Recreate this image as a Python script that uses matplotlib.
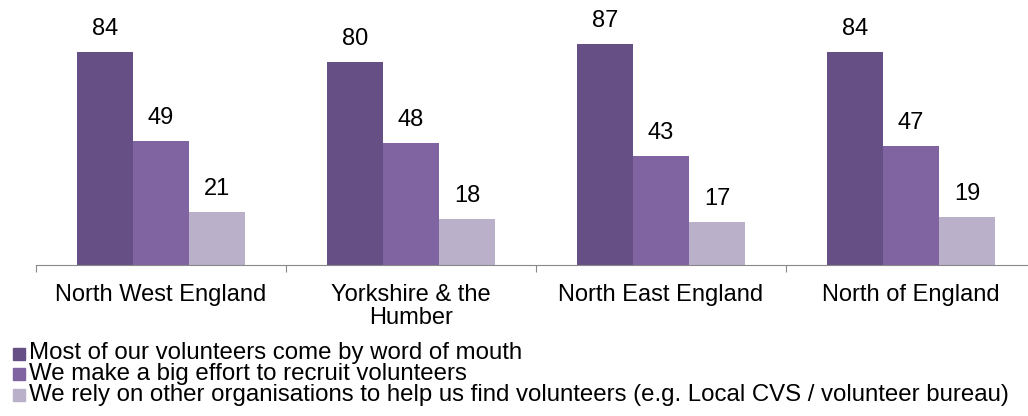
import numpy as np
import matplotlib
matplotlib.use("Agg")
import matplotlib.pyplot as plt
from matplotlib.patches import Rectangle

plt.rcParams['font.family'] = ['Liberation Sans', 'DejaVu Sans']

regions = ["North West England", "Yorkshire & the\nHumber", "North East England", "North of England"]
series_names = [
    "Most of our volunteers come by word of mouth",
    "We make a big effort to recruit volunteers",
    "We rely on other organisations to help us find volunteers (e.g. Local CVS / volunteer bureau)",
]
word_of_mouth = [84, 80, 87, 84]
big_effort = [49, 48, 43, 47]
other_orgs = [21, 18, 17, 19]
colors = ["#664F84", "#8064A2", "#BAB0CA"]

W, H = 1028, 416
fig = plt.figure(figsize=(W / 100, H / 100), dpi=100)
ax = fig.add_axes([36 / W, 1 - 265 / H, 1000 / W, 254 / H])

x = np.arange(len(regions))
w = 0.224
for i, (vals, c) in enumerate(zip([word_of_mouth, big_effort, other_orgs], colors)):
    pos = x + (i - 1) * w
    ax.bar(pos, vals, width=w, color=c, edgecolor="none")
    for p, v in zip(pos, vals):
        ax.text(p, v + 9, str(v), ha="center", va="center", fontsize=17)

ax.set_xlim(-0.5, len(regions) - 0.5)
ax.set_ylim(0, 100)
ax.set_yticks([])
for s in ["top", "right", "left"]:
    ax.spines[s].set_visible(False)
ax.spines["bottom"].set_color("#888888")
ax.set_xticks(np.arange(-0.5, len(regions), 1.0))
ax.set_xticklabels([])
ax.set_xticks(x, minor=True)
ax.set_xticklabels(regions, minor=True, fontsize=17, linespacing=1.05)
ax.tick_params(axis="x", which="major", length=5, color="#888888")
ax.tick_params(axis="x", which="minor", length=0, pad=14)

# legend drawn row by row to get the tight line pitch
row_y = [353.5, 374, 394.5]
for name, c, yy in zip(series_names, colors, row_y):
    fig.patches.append(Rectangle((13 / W, 1 - (yy + 6) / H), 12 / W, 12 / H,
                                 transform=fig.transFigure, color=c))
    fig.text(29 / W, 1 - yy / H, name, ha="left", va="center", fontsize=17.3)

fig.savefig("out.png", dpi=100)
